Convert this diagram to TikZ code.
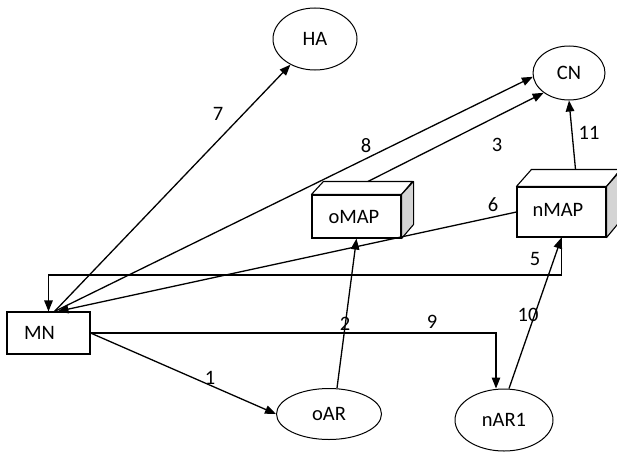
\documentclass[tikz,border=0pt]{standalone}
\usepackage{fontspec}
\setmainfont{Carlito}
\usetikzlibrary{arrows.meta,shapes.geometric}
\definecolor{sidegray}{RGB}{212,212,212}
\begin{document}
\begin{tikzpicture}[x=1pt,y=-1pt,
  font=\fontsize{20.5}{24}\selectfont,
  ell/.style={ellipse,draw,line width=1pt,inner sep=0pt},
  boxf/.style={rectangle,draw,fill=white,line width=1.1pt,inner sep=0pt},
  face/.style={draw,line width=1.1pt,line join=round},
  conn/.style={line width=1.3pt,-{Triangle[length=11pt,width=8.5pt]}},
  lbl/.style={inner sep=0pt}]
\useasboundingbox (0,0) rectangle (617,452);

% nodes
\node[ell,minimum width=84pt,minimum height=62pt] (HA) at (315,39) {HA};
\node[ell,minimum width=72pt,minimum height=54pt] (CN) at (569,73) {CN};
\node[ell,minimum width=105pt,minimum height=51pt] (oAR) at (329,414) {oAR};
\node[ell,minimum width=98pt,minimum height=62pt] (nAR1) at (504,420) {nAR1};
\node[boxf,minimum width=83pt,minimum height=42pt,text width=49pt,align=left] (MN) at (48.5,333) {\raisebox{-2pt}{MN}};

% 3D boxes
\node[boxf,minimum width=89pt,minimum height=43pt,text width=56pt,align=left] (oMAP) at (356.5,216.5) {\raisebox{-1pt}{oMAP}};
\draw[face,fill=white] (oMAP.north west) -- ++(12,-13) -- ++(89,0) -- (oMAP.north east) -- cycle;
\draw[face,fill=sidegray] (oMAP.north east) -- ++(12,-13) -- ++(0,43) -- (oMAP.south east) -- cycle;

\node[boxf,minimum width=89pt,minimum height=50pt,text width=58pt,align=left] (nMAP) at (561.5,212) {\raisebox{5pt}{nMAP}};
\draw[face,fill=white] (nMAP.north west) -- ++(15,-17) -- ++(89,0) -- (nMAP.north east) -- cycle;
\draw[face,fill=sidegray] (nMAP.north east) -- ++(15,-17) -- ++(0,50) -- (nMAP.south east) -- cycle;

% connectors
\draw[conn] (MN.east) -- (oAR.west);
\draw[conn] ([xshift=8pt]oAR.north) -- (oMAP.south);
\draw[conn] ([xshift=11.5pt,yshift=13pt]oMAP.north) -- (CN.218);
\draw[conn] (nMAP.south) -- ++(0,37.5) -| (MN.north);
\draw[conn] (nMAP.west) -- ([xshift=9pt]MN.north);
\draw[conn] ([xshift=6pt]MN.north) -- (HA);
\draw[conn] ([xshift=6pt]MN.north) -- (CN.186);
\draw[conn] (MN.east) -| ([xshift=-8pt]nAR1.north);
\draw[conn] ([xshift=5pt]nAR1.north) -- (nMAP.south);
\draw[conn] ([xshift=14pt,yshift=17pt]nMAP.north) -- (CN.south);

% labels
\node[lbl] (l1) at (210,378) {1};
\node[lbl] (l2) at (345,324) {2};
\node[lbl] (l3) at (497,145) {3};
\node[lbl] (l5) at (535,259) {5};
\node[lbl] (l6) at (493,205) {6};
\node[lbl] (l7) at (218,114) {7};
\node[lbl] (l8) at (366,146) {8};
\node[lbl] (l9) at (432,322) {9};
\node[lbl] (l10) at (528,315) {10};
\node[lbl] (l11) at (589,133) {11};
\end{tikzpicture}
\end{document}
